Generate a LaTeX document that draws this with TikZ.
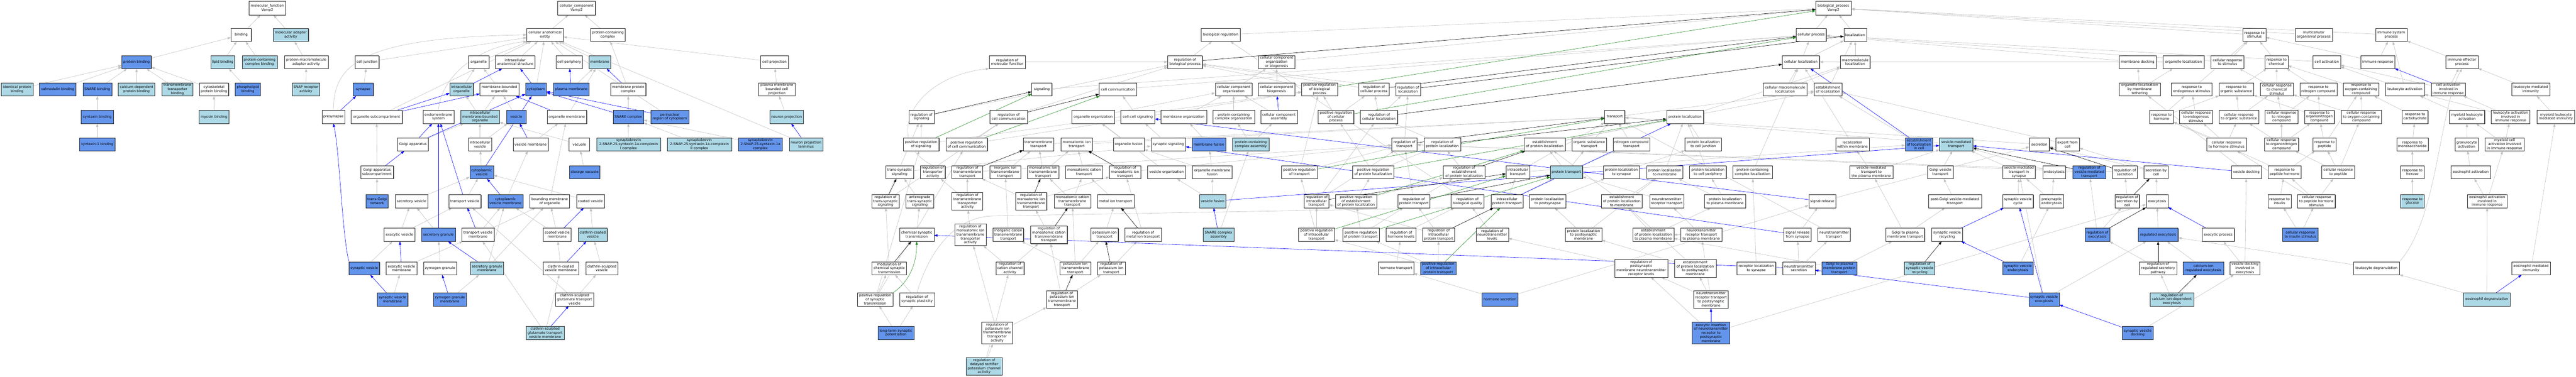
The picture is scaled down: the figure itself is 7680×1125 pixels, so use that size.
\documentclass[tikz,border=0pt]{standalone}
\usepackage{fontspec}
\setmainfont{DejaVu Sans}
\usetikzlibrary{arrows.meta,shadows}
\definecolor{mylb}{HTML}{ADD8E6}
\definecolor{mydb}{HTML}{6495ED}
\definecolor{edgegr}{HTML}{C0C0C0}
\definecolor{edgegreen}{HTML}{228B22}
\definecolor{shadowgr}{HTML}{808080}
\pgfdeclarelayer{bgzero}
\pgfdeclarelayer{edges}
\pgfsetlayers{bgzero,edges,main}
\newcommand\gn[6]{\node[#1,minimum width=#5pt] (#2) at (#3,#4) {#6};}
\begin{document}
\begin{tikzpicture}[x=1pt,y=-1pt,
 nd/.style={draw=black!85,line width=0.7pt,align=center,inner xsep=1.5pt,inner ysep=1pt,minimum height=39pt,font=\fontsize{10.3}{12}\selectfont,general shadow={fill=shadowgr,shadow xshift=1.4pt,shadow yshift=-1.4pt}},
 wh/.style={nd,fill=white},
 lb/.style={nd,fill=mylb},
 db/.style={nd,fill=mydb},
 top/.style={minimum height=41pt},
 hf/.style={minimum height=53pt},
 hv/.style={minimum height=65pt},
 eg/.style={draw=edgegr,line width=0.9pt,-{Triangle[length=10pt,width=7pt]}},
 eb/.style={eg,draw=blue},
 ek/.style={eg,draw=black},
 en/.style={eg,draw=edgegreen}]
\useasboundingbox (0,0) rectangle (7680,1125);
\begin{pgfonlayer}{bgzero}
\fill[white] (0,0) rectangle (7680,1125);
\end{pgfonlayer}
% ---------------- molecular function
\gn{wh,top}{mf}{797}{24}{109}{molecular\_function\\Vamp2}
\gn{wh}{bind}{719}{104}{60}{binding}
\gn{lb}{molad}{867}{104}{105}{molecular adaptor\\activity}
\gn{db}{pbind}{407}{185}{88}{protein binding}
\gn{lb}{lipb}{664}{185}{71}{lipid binding}
\gn{lb}{pccb}{774}{185}{104}{protein-containing\\complex binding}
\gn{wh}{pmad}{913}{185}{131}{protein-macromolecule\\adaptor activity}
\gn{lb}{idpb}{51}{267}{94}{identical protein\\binding}
\gn{db}{calmb}{172}{267}{109}{calmodulin binding}
\gn{db}{snareb}{290}{267}{86}{SNARE binding}
\gn{lb}{cadpb}{407}{267}{109}{calcium-dependent\\protein binding}
\gn{lb}{tmtb}{529}{267}{92}{transmembrane\\transporter\\binding}
\gn{wh}{cytpb}{638}{267}{87}{cytoskeletal\\protein binding}
\gn{db}{phlb}{739}{267}{75}{phospholipid\\binding}
\gn{lb}{snaprec}{912}{267}{82}{SNAP receptor\\activity}
\gn{db}{syxb}{290}{349}{96}{syntaxin binding}
\gn{lb}{myob}{638}{349}{88}{myosin binding}
\gn{db}{syxa}{290}{431}{105}{syntaxin-1 binding}
% ---------------- cellular component
\gn{wh,top}{cc}{1719}{24}{112}{cellular\_component\\Vamp2}
\gn{wh}{cae}{1625}{104}{109}{cellular anatomical\\entity}
\gn{wh}{pcc}{1812}{104}{104}{protein-containing\\complex}
\gn{wh}{celljx}{1094}{185}{72}{cell junction}
\gn{wh}{organelle}{1427}{185}{61}{organelle}
\gn{wh}{ias}{1536}{185}{118}{intracellular\\anatomical structure}
\gn{wh}{cellper}{1697}{185}{78}{cell periphery}
\gn{lb}{membrane}{1788}{185}{65}{membrane}
\gn{wh}{cellproj}{2309}{185}{83}{cell projection}
\gn{db}{synapse}{1083}{267}{60}{synapse}
\gn{lb}{intorg}{1376}{267}{70}{intracellular\\organelle}
\gn{wh}{mbo}{1489}{267}{116}{membrane-bounded\\organelle}
\gn{db}{cytoplasm}{1598}{267}{62}{cytoplasm}
\gn{db}{pm}{1703}{267}{107}{plasma membrane}
\gn{wh}{mpc}{1873}{267}{105}{membrane protein\\complex}
\gn{wh}{pmbcp}{2316}{267}{108}{plasma membrane\\bounded cell\\projection}
\gn{wh}{presyn}{994}{349}{67}{presynapse}
\gn{wh}{orgsub}{1123}{349}{152}{organelle subcompartment}
\gn{wh}{endo}{1307}{349}{92}{endomembrane\\system}
\gn{lb}{imbo}{1431}{349}{115}{intracellular\\membrane-bounded\\organelle}
\gn{db}{vesicle}{1539}{349}{59}{vesicle}
\gn{wh}{orgmem}{1690}{349}{118}{organelle membrane}
\gn{db}{snarec}{1873}{349}{91}{SNARE complex}
\gn{db}{perinuc}{1997}{349}{113}{perinuclear\\region of cytoplasm}
\gn{lb}{neuproj}{2345}{349}{100}{neuron projection}
\gn{wh}{golgi}{1231}{431}{92}{Golgi apparatus}
\gn{wh}{intves}{1431}{431}{70}{intracellular\\vesicle}
\gn{wh}{vesmem}{1582}{431}{105}{vesicle membrane}
\gn{wh}{vacuole}{1727}{431}{61}{vacuole}
\gn{lb}{sncI}{1874}{431}{191}{synaptobrevin\\2-SNAP-25-syntaxin-1a-complexin\\I complex}
\gn{lb}{sncII}{2085}{431}{192}{synaptobrevin\\2-SNAP-25-syntaxin-1a-complexin\\II complex}
\gn{db}{snc}{2267}{431}{131}{synaptobrevin\\2-SNAP-25-syntaxin-1a\\complex}
\gn{lb}{npt}{2403}{431}{100}{neuron projection\\terminus}
\gn{wh}{gas}{1124}{514}{98}{Golgi apparatus\\subcompartment}
\gn{db}{cytves}{1436}{514}{71}{cytoplasmic\\vesicle}
\gn{db}{storvac}{1743}{514}{91}{storage vacuole}
\gn{db}{tgn}{1124}{601}{65}{trans-Golgi\\network}
\gn{wh}{secves}{1227}{601}{97}{secretory vesicle}
\gn{wh}{transves}{1386}{601}{96}{transport vesicle}
\gn{db}{cvm}{1507}{601}{105}{cytoplasmic\\vesicle membrane}
\gn{wh}{bmo}{1639}{601}{118}{bounding membrane\\of organelle}
\gn{wh}{coatves}{1760}{601}{83}{coated vesicle}
\gn{wh}{exoves}{1191}{701}{92}{exocytic vesicle}
\gn{db}{secgran}{1307}{701}{101}{secretory granule}
\gn{wh}{tvm}{1425}{701}{96}{transport vesicle\\membrane}
\gn{wh}{cvmem}{1661}{701}{82}{coated vesicle\\membrane}
\gn{lb}{ccv}{1767}{701}{87}{clathrin-coated\\vesicle}
\gn{db}{synves}{1086}{801}{91}{synaptic vesicle}
\gn{wh}{evm}{1197}{801}{92}{exocytic vesicle\\membrane}
\gn{wh}{zymo}{1312}{801}{99}{zymogen granule}
\gn{lb}{sgm}{1452}{801}{99}{secretory granule\\membrane}
\gn{wh}{ccvm}{1672}{801}{105}{clathrin-coated\\vesicle membrane}
\gn{wh}{csv}{1794}{801}{95}{clathrin-sculpted\\vesicle}
\gn{db}{svm}{1170}{894}{92}{synaptic vesicle\\membrane}
\gn{db}{zgm}{1341}{894}{99}{zymogen granule\\membrane}
\gn{wh}{csgtv}{1713}{894}{113}{clathrin-sculpted\\glutamate transport\\vesicle}
\gn{lb}{csgtvm}{1625}{994}{113}{clathrin-sculpted\\glutamate transport\\vesicle membrane}
% ---------------- biological process
\gn{wh,top}{bp}{5466}{24}{105}{biological\_process\\Vamp2}
\gn{wh}{bioreg}{3639}{104}{116}{biological regulation}
\gn{wh}{cellproc}{5400}{104}{89}{cellular process}
\gn{wh}{loc}{5531}{104}{67}{localization}
\gn{wh}{respstim}{6721}{104}{68}{response to\\stimulus}
\gn{wh}{mop}{6898}{104}{111}{multicellular\\organismal process}
\gn{wh}{isp}{7129}{104}{94}{immune system\\process}
% row 2
\gn{wh}{regmf}{3003}{185}{107}{regulation of\\molecular function}
\gn{wh}{regbp}{3533}{185}{103}{regulation of\\biological process}
\gn{wh}{ccob}{3806}{185}{109}{cellular component\\organization\\or biogenesis}
\gn{wh}{cellloc}{5369}{185}{111}{cellular localization}
\gn{wh}{macloc}{5531}{185}{88}{macromolecule\\localization}
\gn{wh}{memdock}{6373}{185}{111}{membrane docking}
\gn{wh}{orgloc}{6510}{185}{122}{organelle localization}
\gn{wh}{crstim}{6641}{185}{98}{cellular response\\to stimulus}
\gn{wh}{respchem}{6787}{185}{68}{response to\\chemical}
\gn{wh}{cellact}{6937}{185}{82}{cell activation}
\gn{wh}{immresp}{7089}{185}{101}{immune response}
\gn{wh}{iep}{7340}{185}{96}{immune effector\\process}
% row 3
\gn{wh}{signaling}{3106}{267}{60}{signaling}
\gn{wh}{cellcomm}{3333}{267}{112}{cell communication}
\gn{wh}{cco}{3678}{267}{110}{cellular component\\organization}
\gn{wh}{ccb}{3806}{267}{109}{cellular component\\biogenesis}
\gn{wh}{prbp}{3934}{267}{106}{positive regulation\\of biological\\process}
\gn{wh}{regcp}{4096}{267}{90}{regulation of\\cellular process}
\gn{wh}{regloc}{4198}{267}{73}{regulation of\\localization}
\gn{wh}{cml}{5322}{267}{131}{cellular macromolecule\\localization}
\gn{wh}{estloc}{5450}{267}{82}{establishment\\of localization}
\gn{wh}{olmt}{6379}{267}{122}{organelle localization\\by membrane\\tethering}
\gn{wh}{rendo}{6534}{267}{121}{response to\\endogenous stimulus}
\gn{wh}{rorg}{6667}{267}{102}{response to\\organic substance}
\gn{wh}{crchem}{6788}{267}{98}{cellular response\\to chemical\\stimulus}
\gn{wh}{rnitro}{6912}{267}{110}{response to\\nitrogen compound}
\gn{wh}{roxy}{7039}{267}{105}{response to\\oxygen-containing\\compound}
\gn{wh}{leuact}{7170}{267}{116}{leukocyte activation}
\gn{wh}{caiir}{7299}{267}{102}{cell activation\\involved in\\immune response}
\gn{wh}{lmi}{7545}{267}{113}{leukocyte mediated\\immunity}
% row 4
\gn{wh}{regsig}{2747}{349}{75}{regulation of\\signaling}
\gn{wh}{regcc}{3007}{349}{112}{regulation of\\cell communication}
\gn{wh}{orgorg}{3259}{349}{127}{organelle organization}
\gn{wh}{ccsig}{3392}{349}{101}{cell-cell signaling}
\gn{wh}{memorg}{3529}{349}{136}{membrane organization}
\gn{wh}{pcco}{3678}{349}{124}{protein-containing\\complex organization}
\gn{wh}{cca}{3813}{349}{109}{cellular component\\assembly}
\gn{wh}{prcp}{3983}{349}{106}{positive regulation\\of cellular\\process}
\gn{wh}{regcloc}{4111}{349}{111}{regulation of\\cellular localization}
\gn{wh}{transport}{4814}{349}{60}{transport}
\gn{wh}{protloc}{5024}{349}{110}{protein localization}
\gn{wh}{rhorm}{6444}{349}{70}{response to\\hormone}
\gn{wh}{crendo}{6547}{349}{98}{cellular response\\to endogenous\\stimulus}
\gn{wh}{crorg}{6675}{349}{117}{cellular response\\to organic substance}
\gn{wh}{crnitro}{6802}{349}{98}{cellular response\\to nitrogen\\compound}
\gn{wh}{rorgn}{6915}{349}{88}{response to\\organonitrogen\\compound}
\gn{wh}{croxy}{7040}{349}{120}{cellular response\\to oxygen-containing\\compound}
\gn{wh}{rcarb}{7200}{349}{77}{response to\\carbohydrate}
\gn{wh}{mlact}{7355}{349}{105}{myeloid leukocyte\\activation}
\gn{wh}{laiir}{7485}{349}{115}{leukocyte activation\\involved in\\immune response}
\gn{wh}{mlmi}{7620}{349}{112}{myeloid leukocyte\\mediated immunity}
% row 5
\gn{wh}{prsig}{2746}{431}{107}{positive regulation\\of signaling}
\gn{wh}{prcc}{2882}{431}{124}{positive regulation\\of cell communication}
\gn{wh}{tmt}{3096}{431}{91}{transmembrane\\transport}
\gn{wh}{miont}{3210}{431}{93}{monoatomic ion\\transport}
\gn{wh}{orgfus}{3365}{431}{92}{organelle fusion}
\gn{wh}{synsig}{3483}{431}{103}{synaptic signaling}
\gn{db}{memfus}{3604}{431}{100}{membrane fusion}
\gn{lb}{pcca}{3729}{431}{108}{protein-containing\\complex assembly}
\gn{wh}{regtr}{4187}{431}{75}{regulation of\\transport}
\gn{wh}{regploc}{4300}{431}{109}{regulation of\\protein localization}
\gn{wh}{epl}{4605}{431}{123}{establishment\\of protein localization}
\gn{wh}{ost}{4738}{431}{102}{organic substance\\transport}
\gn{wh}{nct}{4864}{431}{110}{nitrogen compound\\transport}
\gn{wh}{plcj}{5078}{431}{109}{protein localization\\to cell junction}
\gn{wh}{lwm}{5523}{431}{100}{localization\\within membrane}
\gn{db}{elic}{5721}{431}{82}{establishment\\of localization\\in cell}
\gn{lb}{vmt}{5832}{431}{99}{vesicle-mediated\\transport}
\gn{wh}{secretion}{6080}{431}{59}{secretion}
\gn{wh}{efc}{6164}{431}{70}{export from\\cell}
\gn{wh}{crhorm}{6638}{431}{118}{cellular response\\to hormone stimulus}
\gn{wh}{crorgn}{6802}{431}{102}{cellular response\\to organonitrogen\\compound}
\gn{wh}{rpep}{6930}{431}{69}{response to\\peptide}
\gn{wh}{rmono}{7192}{431}{94}{response to\\monosaccharide}
\gn{wh}{gact}{7354}{431}{69}{granulocyte\\activation}
\gn{wh}{mcaiir}{7467}{431}{116}{myeloid cell\\activation involved\\in immune response}
% row 6
\gn{wh}{tss}{2682}{514}{82}{trans-synaptic\\signaling}
\gn{wh}{rta}{2781}{514}{74}{regulation of\\transporter\\activity}
\gn{wh}{rtmt}{2884}{514}{92}{regulation of\\transmembrane\\transport}
\gn{wh}{iitt}{2997}{514}{91}{inorganic ion\\transmembrane\\transport}
\gn{wh}{mitt}{3110}{514}{93}{monoatomic ion\\transmembrane\\transport}
\gn{wh}{mct}{3232}{514}{110}{monoatomic cation\\transport}
\gn{wh}{rmit}{3354}{514}{93}{regulation of\\monoatomic ion\\transport}
\gn{wh}{vesorg}{3478}{514}{114}{vesicle organization}
\gn{wh}{omf}{3614}{514}{118}{organelle membrane\\fusion}
\gn{wh}{prtr}{3874}{514}{108}{positive regulation\\of transport}
\gn{wh}{prploc}{4094}{514}{123}{positive regulation\\of protein localization}
\gn{wh}{repl}{4365}{514}{124}{regulation of\\establishment\\of protein localization}
\gn{wh}{inttr}{4525}{514}{70}{intracellular\\transport}
\gn{lb}{prottr}{4670}{514}{96}{protein transport}
\gn{wh}{plsyn}{4834}{514}{108}{protein localization\\to synapse}
\gn{wh}{plmem}{4963}{514}{108}{protein localization\\to membrane}
\gn{wh}{plcp}{5092}{514}{109}{protein localization\\to cell periphery}
\gn{wh}{pccl}{5225}{514}{118}{protein-containing\\complex localization}
\gn{wh}{vmtpm}{5579}{514}{129}{vesicle-mediated\\transport to\\the plasma membrane}
\gn{wh}{gvt}{5785}{514}{76}{Golgi vesicle\\transport}
\gn{wh}{vmtsyn}{6019}{514}{98}{vesicle-mediated\\transport in\\synapse}
\gn{wh}{endocyt}{6124}{514}{68}{endocytosis}
\gn{db}{rvmt}{6229}{514}{98}{regulation of\\vesicle-mediated\\transport}
\gn{wh}{rsec}{6335}{514}{73}{regulation of\\secretion}
\gn{wh}{secbc}{6428}{514}{72}{secretion by\\cell}
\gn{wh}{vdock}{6697}{514}{89}{vesicle docking}
\gn{wh}{rpephorm}{6811}{514}{98}{response to\\peptide hormone}
\gn{wh}{crpep}{6971}{514}{98}{cellular response\\to peptide}
\gn{wh}{rhex}{7192}{514}{70}{response to\\hexose}
\gn{wh}{eact}{7366}{514}{118}{eosinophil activation}
% row 7
\gn{wh}{rtss}{2640}{601}{82}{regulation of\\trans-synaptic\\signaling}
\gn{wh}{atss}{2742}{601}{82}{anterograde\\trans-synaptic\\signaling}
\gn{wh,hf}{rtmta}{2884}{601}{92}{regulation of\\transmembrane\\transporter\\activity}
\gn{wh,hf}{rmitt}{3074}{601}{93}{regulation of\\monoatomic ion\\transmembrane\\transport}
\gn{wh}{mctt}{3197}{601}{109}{monoatomic cation\\transmembrane\\transport}
\gn{wh}{mit}{3326}{601}{109}{metal ion transport}
\gn{lb}{vesfus}{3615}{601}{79}{vesicle fusion}
\gn{wh}{rit}{3925}{601}{74}{regulation of\\intracellular\\transport}
\gn{wh}{prepl}{4043}{601}{123}{positive regulation\\of establishment\\of protein localization}
\gn{wh}{rpt}{4215}{601}{95}{regulation of\\protein transport}
\gn{wh}{rbq}{4375}{601}{98}{regulation of\\biological quality}
\gn{wh}{ipt}{4493}{601}{95}{intracellular\\protein transport}
\gn{wh}{plps}{4614}{601}{109}{protein localization\\to postsynapse}
\gn{wh}{eplm}{4835}{601}{122}{establishment\\of protein localization\\to membrane}
\gn{wh}{ntrt}{4969}{601}{102}{neurotransmitter\\receptor transport}
\gn{wh}{plpm}{5143}{601}{122}{protein localization\\to plasma membrane}
\gn{wh}{sigrel}{5433}{601}{81}{signal release}
\gn{wh}{pgvmt}{5828}{601}{158}{post-Golgi vesicle-mediated\\transport}
\gn{wh}{svc}{6016}{601}{92}{synaptic vesicle\\cycle}
\gn{wh}{pendo}{6117}{601}{71}{presynaptic\\endocytosis}
\gn{wh}{rsecbc}{6342}{601}{73}{regulation of\\secretion by\\cell}
\gn{wh}{exocyt}{6431}{601}{65}{exocytosis}
\gn{wh}{rins}{6796}{601}{69}{response to\\insulin}
\gn{wh}{crphs}{6906}{601}{112}{cellular response\\to peptide hormone\\stimulus}
\gn{lb}{rgluc}{7192}{601}{70}{response to\\glucose}
\gn{wh}{eaiir}{7415}{601}{118}{eosinophil activation\\involved in\\immune response}
% row 8
\gn{wh}{cst}{2733}{701}{103}{chemical synaptic\\transmission}
\gn{wh,hv}{rmitta}{2893}{701}{93}{regulation of\\monoatomic ion\\transmembrane\\transporter\\activity}
\gn{wh}{ictt}{3006}{701}{91}{inorganic cation\\transmembrane\\transport}
\gn{wh,hf}{rmctt}{3127}{701}{110}{regulation of\\monoatomic cation\\transmembrane\\transport}
\gn{wh}{kit}{3293}{701}{82}{potassium ion\\transport}
\gn{wh}{rmetal}{3408}{701}{109}{regulation of\\metal ion transport}
\gn{lb}{snareasm}{3633}{701}{91}{SNARE complex\\assembly}
\gn{wh}{prit}{3925}{701}{107}{positive regulation\\of intracellular\\transport}
\gn{wh}{prpt}{4057}{701}{109}{positive regulation\\of protein transport}
\gn{wh}{rhl}{4177}{701}{89}{regulation of\\hormone levels}
\gn{wh}{ript}{4289}{701}{95}{regulation of\\intracellular\\protein transport}
\gn{wh}{rntl}{4449}{701}{96}{regulation of\\neurotransmitter\\levels}
\gn{wh}{plpsm}{4721}{701}{108}{protein localization\\to postsynaptic\\membrane}
\gn{wh}{eplpm}{4929}{701}{122}{establishment\\of protein localization\\to plasma membrane}
\gn{wh}{ntrtpm}{5072}{701}{122}{neurotransmitter\\receptor transport\\to plasma membrane}
\gn{wh}{srfs}{5359}{701}{81}{signal release\\from synapse}
\gn{wh}{ntt}{5468}{701}{96}{neurotransmitter\\transport}
\gn{wh}{gtpmt}{5680}{701}{116}{Golgi to plasma\\membrane transport}
\gn{wh}{svr}{5805}{701}{91}{synaptic vesicle\\recycling}
\gn{db}{rexo}{6253}{701}{73}{regulation of\\exocytosis}
\gn{db}{regexo}{6434}{701}{119}{regulated exocytosis}
\gn{wh}{exoproc}{6613}{701}{96}{exocytic process}
\gn{db}{crins}{6858}{701}{105}{cellular response\\to insulin stimulus}
% row 9
\gn{wh}{mcst}{2651}{801}{103}{modulation of\\chemical synaptic\\transmission}
\gn{wh}{rcca}{3011}{801}{84}{regulation of\\cation channel\\activity}
\gn{wh}{kitt}{3206}{801}{91}{potassium ion\\transmembrane\\transport}
\gn{wh}{rkit}{3313}{801}{83}{regulation of\\potassium ion\\transport}
\gn{wh}{hormtr}{4162}{801}{105}{hormone transport}
\gn{db}{pript}{4288}{801}{106}{positive regulation\\of intracellular\\protein transport}
\gn{wh,hf}{rpmnrl}{4893}{801}{158}{regulation of\\postsynaptic\\membrane neurotransmitter\\receptor levels}
\gn{wh,hf}{eplpsm}{5054}{801}{124}{establishment\\of protein localization\\to postsynaptic\\membrane}
\gn{wh}{rls}{5236}{801}{116}{receptor localization\\to synapse}
\gn{wh}{nts}{5363}{801}{96}{neurotransmitter\\secretion}
\gn{db}{gtpmpt}{5484}{801}{105}{Golgi to plasma\\membrane protein\\transport}
\gn{lb}{rsvr}{5723}{801}{91}{regulation of\\synaptic vesicle\\recycling}
\gn{db}{sve}{6016}{801}{91}{synaptic vesicle\\endocytosis}
\gn{wh}{rrsp}{6434}{801}{111}{regulation of\\regulated secretory\\pathway}
\gn{db}{cire}{6569}{801}{120}{calcium-ion\\regulated exocytosis}
\gn{wh}{vdie}{6693}{801}{89}{vesicle docking\\involved in\\exocytosis}
\gn{wh}{leudeg}{7085}{801}{137}{leukocyte degranulation}
\gn{wh}{emi}{7546}{801}{115}{eosinophil mediated\\immunity}
% row 10
\gn{wh}{prst}{2609}{894}{106}{positive regulation\\of synaptic\\transmission}
\gn{wh}{rsp}{2734}{894}{105}{regulation of\\synaptic plasticity}
\gn{wh,hf}{rkitt}{3166}{894}{92}{regulation of\\potassium ion\\transmembrane\\transport}
\gn{db}{hormsec}{4472}{894}{107}{hormone secretion}
\gn{wh,hf}{ntrtpsm}{5101}{894}{103}{neurotransmitter\\receptor transport\\to postsynaptic\\membrane}
\gn{db}{svexo}{6094}{894}{91}{synaptic vesicle\\exocytosis}
\gn{lb}{rcide}{6475}{894}{130}{regulation of\\calcium ion-dependent\\exocytosis}
\gn{lb}{edeg}{7414}{894}{139}{eosinophil degranulation}
% row 11-12
\gn{db}{ltp}{2671}{994}{107}{long-term synaptic\\potentiation}
\gn{wh,hv}{rkitta}{2973}{994}{92}{regulation of\\potassium ion\\transmembrane\\transporter\\activity}
\gn{db,hv}{exins}{5101}{994}{112}{exocytic insertion\\of neurotransmitter\\receptor to\\postsynaptic\\membrane}
\gn{db}{svdock}{6373}{994}{91}{synaptic vesicle\\docking}
\gn{lb,hf}{rdrkca}{2934}{1094}{108}{regulation of\\delayed rectifier\\potassium channel\\activity}
% ---------------- edges
\begin{pgfonlayer}{edges}
\foreach \a/\b in {bind/mf, molad/mf, pbind/bind, lipb/bind, pccb/bind, pmad/molad, idpb/pbind, calmb/pbind, snareb/pbind, cadpb/pbind, tmtb/pbind, cytpb/pbind, phlb/lipb, snaprec/pmad, syxb/snareb, syxa/syxb, myob/cytpb,
 cae/cc, pcc/cc, celljx/cae, organelle/cae, ias/cae, cellper/cae, membrane/cae, cellproj/cae, cytoplasm/cae, orgsub/cae, npt/cae, perinuc/cae, synapse/celljx, intorg/organelle, mbo/organelle, pm/membrane, mpc/pcc, orgmem/membrane, snarec/mpc, pmbcp/cellproj, neuproj/pmbcp, golgi/imbo, imbo/intorg, imbo/mbo, vesicle/mbo, intves/imbo, intves/vesicle, vesmem/orgmem, vacuole/imbo, sncI/snarec, sncII/snarec, snc/snarec, gas/orgsub, cytves/intves, storvac/vacuole, tgn/gas, secves/cytves, transves/cytves, cvm/vesmem, bmo/orgmem, coatves/cytves, exoves/secves, exoves/transves, secgran/secves, tvm/cvm, tvm/bmo, cvmem/bmo, cvmem/cvm, ccv/coatves, synves/exoves, evm/tvm, zymo/secgran, sgm/cvm, sgm/bmo, ccvm/cvmem, csv/ccv, svm/evm, zgm/sgm, csgtv/csv, csgtv/transves, csgtvm/ccvm, csgtvm/tvm,
 cellproc/bp, loc/bp, bioreg/bp, ccob/bp, respstim/bp, mop/bp, isp/bp, regbp/bioreg, regmf/regbp, signaling/cellproc, cellcomm/cellproc, regsig/regbp, regcc/regbp, prsig/regsig, prsig/prbp, prcc/regcc, prcc/prbp, cco/ccob, ccb/ccob, orgorg/cco, memorg/cco, pcco/cco, cca/cco, ccsig/cellcomm, synsig/ccsig, tss/synsig, orgfus/orgorg, memfus/memorg, pcca/pcco, pcca/cca, omf/orgfus, omf/memfus, vesorg/orgorg, vesfus/omf, vesfus/vesorg, snareasm/pcca, tmt/transport, miont/transport, rtmt/regtr, iitt/tmt, mitt/tmt, mitt/miont, mct/miont, rtss/regsig, rtss/regcc, atss/tss, rtmta/rta, rtmta/rtmt, rmitt/rtmt, rmitt/rmit, mctt/mitt, mctt/mct, mit/mct, rmit/regtr, cst/atss, rmitta/rtmta, ictt/iitt, rmctt/rmitt, kit/mit, rmetal/rmit, mcst/rtss, rcca/rmitta, rcca/rmctt, kitt/kit, kitt/ictt, kitt/mctt, rkit/rmetal, prst/mcst, prst/prsig, prst/prcc, rsp/mcst, rkitt/rmctt, rkitt/rkit, ltp/prst, ltp/rsp, rkitta/rmitta, rkitta/rkitt, rdrkca/rkitta, rdrkca/rcca,
 prbp/regbp, regcp/regbp, regloc/regbp, prcp/prbp, prcp/regcp, regcloc/regcp, regcloc/regloc, regtr/regloc, regploc/regcloc, prtr/regtr, prtr/prbp, prploc/regploc, prploc/prcp, repl/regploc, rit/regtr, rit/regcloc, prepl/prploc, prepl/repl, rpt/regtr, rpt/repl, rbq/bioreg, prit/rit, prit/prtr, prpt/prepl, prpt/rpt, rhl/rbq, ript/rpt, ript/rit, rntl/rbq, hormtr/rhl, pript/ript, pript/prit, pript/prpt, hormsec/hormtr, hormsec/sigrel,
 cellloc/cellproc, cellloc/loc, macloc/loc, cml/cellloc, cml/macloc, estloc/loc, transport/estloc, protloc/macloc, epl/protloc, epl/estloc, ost/transport, nct/transport, plcj/protloc, inttr/transport, inttr/elic, prottr/epl, prottr/ost, prottr/nct, plsyn/plcj, plmem/protloc, plcp/protloc, ipt/inttr, ipt/prottr, plps/plsyn, eplm/plmem, eplm/epl, ntrt/prottr, plpm/plmem, plpm/plcp, plpsm/plps, plpsm/plmem, eplpm/eplm, eplpm/plpm, ntrtpm/ntrt, ntrtpm/eplpm, rpmnrl/rntl, eplpsm/eplm, eplpsm/plpsm, ntrtpsm/eplpsm, ntrtpsm/ntrtpm, ntrtpsm/rpmnrl, exins/rpmnrl, exins/exocyt, lwm/cellloc, elic/estloc, pccl/cellloc, vmtpm/lwm, vmtpm/vmt, gvt/vmt, sigrel/secretion, pgvmt/gvt, srfs/sigrel, ntt/transport, gtpmt/vmtpm, gtpmt/pgvmt, rls/pccl, nts/srfs, nts/ntt, gtpmpt/gtpmt, gtpmpt/eplpm, vmt/transport, secretion/transport, efc/estloc, memdock/cellproc, olmt/memdock, olmt/orgloc, orgloc/cellloc, vmtsyn/vmt, endocyt/vmt, rvmt/regtr, rsec/regtr, secbc/secretion, secbc/efc, svc/vmtsyn, pendo/endocyt, pendo/vmtsyn, rsecbc/rsec, exocyt/secbc, rexo/rvmt, rexo/rsecbc, regexo/exocyt, sve/pendo, rrsp/rexo, svexo/regexo, svexo/vmtsyn, svdock/vdie, vdock/olmt, vdie/exoproc, vdie/vdock, cire/regexo, rcide/rrsp, leudeg/regexo,
 crstim/respstim, crstim/cellproc, respchem/respstim, cellact/cellproc, immresp/isp, immresp/respstim, iep/isp, rendo/respstim, rorg/respchem, crchem/respchem, crchem/crstim, rnitro/respchem, roxy/respchem, leuact/cellact, leuact/isp, caiir/cellact, caiir/iep, lmi/iep, rhorm/rendo, rhorm/rorg, crendo/rendo, crorg/rorg, crorg/crchem, crnitro/rnitro, crnitro/crchem, rorgn/rnitro, rorgn/rorg, croxy/roxy, croxy/crchem, rcarb/roxy, mlact/leuact, laiir/leuact, laiir/caiir, mlmi/lmi, crhorm/rhorm, crhorm/crendo, crhorm/crorg, crorgn/crnitro, crorgn/rorgn, crorgn/crorg, rpep/rorgn, rpep/roxy, rmono/rcarb, gact/mlact, mcaiir/mlact, mcaiir/laiir, rpephorm/rpep, rpephorm/rhorm, crpep/rpep, crpep/crorgn, crpep/croxy, rhex/rmono, eact/gact, rins/rpephorm, crphs/rpephorm, crphs/crpep, crphs/crhorm, rgluc/rhex, eaiir/eact, eaiir/mcaiir, crins/rins, crins/crphs, emi/mlmi, edeg/leudeg, edeg/eaiir}
 \draw[eg] (\a) -- (\b);
% curved grey edges
\draw[eg] (presyn.north) .. controls (994,190) and (1080,112) .. (cae.west);
\draw[eg] (endo.north) .. controls (1315,230) and (1420,140) .. (cae.south west);
\draw[eg] (rta.north) .. controls (2630,420) and (2720,230) .. (regmf.south west);
\draw[eg] (rsp.north) .. controls (2760,780) and (2830,648) .. (2960,645) -- (rbq.south west);
\draw[eg] (leudeg.north east) .. controls (7270,650) and (7270,330) .. (iep.south);
\foreach \a/\b in {presyn/synapse, intorg/ias, cytoplasm/ias, pm/cellper, mpc/membrane, orgsub/intorg, orgsub/mbo, golgi/endo, golgi/cytoplasm, orgmem/mbo, snarec/cytoplasm, perinuc/cytoplasm, npt/neuproj, vesmem/vesicle, gas/golgi, cytves/cytoplasm, transves/endo, cvm/cytves, secgran/endo, tvm/transves, cvmem/coatves, evm/exoves, sgm/secgran, ccvm/ccv, svm/synves, zgm/zymo, csgtvm/csgtv,
 cca/ccb, vesfus/vmt, snareasm/vesfus, nts/cst, ipt/protloc, exins/ntrtpsm, elic/cellloc, sigrel/ccsig, srfs/synsig, svr/svc, sve/svr, svexo/svc, svexo/nts, svdock/svexo, exoproc/exocyt, vdock/vmt, caiir/immresp, edeg/emi}
 \draw[eb] (\a) -- (\b);
\draw[eb] (synves.north west) .. controls (1020,700) and (1012,450) .. (presyn.south);
\foreach \a/\b in {regbp/bp, regsig/signaling, regcc/cellcomm, rtmt/tmt, rtss/tss, rmitt/mitt, rmit/miont, rmctt/mctt, rmetal/mit, mcst/cst, rkit/kit, rkitt/kitt, regcp/cellproc, regloc/loc, regcloc/cellloc, regtr/transport, regploc/protloc, repl/epl, rit/inttr, rpt/prottr, ript/ipt, rsvr/svr, rvmt/vmt, rsec/secretion, rsecbc/secbc, rexo/exocyt, rrsp/regexo, rcide/cire}
 \draw[ek] (\a) -- (\b);
\foreach \a/\b in {prbp/bp, prsig/signaling, prcc/cellcomm, prcp/cellproc, prtr/transport, prploc/protloc, prepl/epl, prit/inttr, prpt/prottr, pript/ipt}
 \draw[en] (\a) -- (\b);
\draw[en] (prst.north east) .. controls (2700,850) and (2733,800) .. (cst.south);
\end{pgfonlayer}
\end{tikzpicture}
\end{document}
